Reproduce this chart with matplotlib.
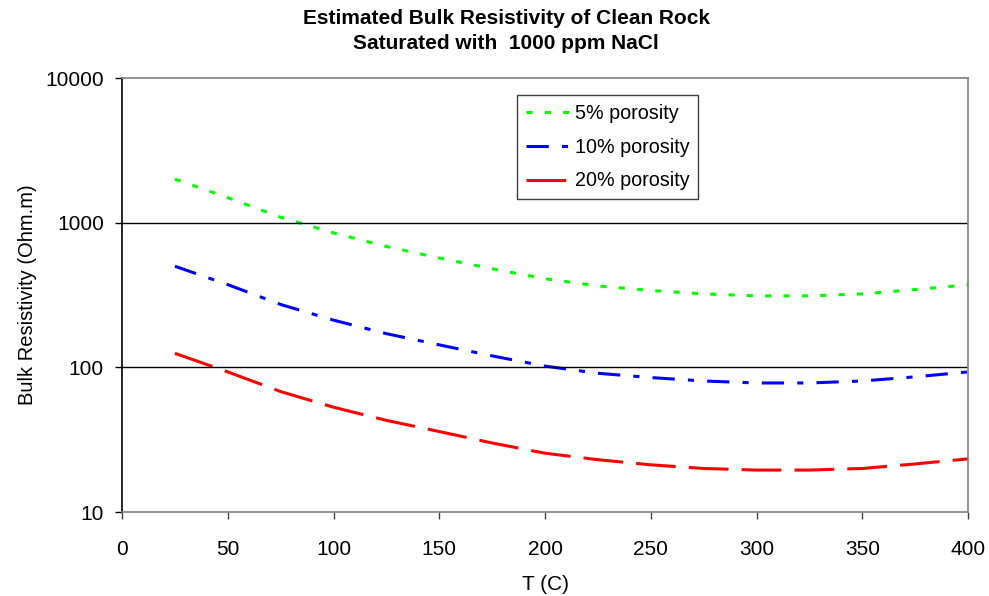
import matplotlib.pyplot as plt
from matplotlib.ticker import FixedLocator, FixedFormatter, NullLocator

temps = [25, 50, 75, 100, 125, 150, 175, 200, 225, 250, 275, 300, 325, 350, 375, 400]
res_5pct = [2000, 1490, 1090, 850, 685, 570, 480, 410, 365, 340, 322, 312, 312, 322, 345, 372]
res_10pct = [500, 373, 272, 212, 171, 143, 120, 102, 91, 85, 80.5, 78, 78, 80.5, 86, 93]
res_20pct = [125, 93, 68, 53, 43, 36, 30, 25.5, 23, 21.2, 20, 19.5, 19.5, 20, 21.5, 23.3]

plt.rcParams['font.family'] = ['Liberation Sans', 'DejaVu Sans']

fig = plt.figure(figsize=(9.89, 5.96), dpi=100)
ax = fig.add_axes([0.1234, 0.1409, 0.8554, 0.7282])

lw = 2.2
ax.plot(temps, res_5pct, color='#00ff00', lw=lw, dashes=(2, 4), label='5% porosity')
ax.plot(temps, res_10pct, color='#0000ff', lw=lw, dashes=(7.3, 4.3, 2, 4.3), label='10% porosity')
ax.plot(temps, res_20pct, color='#ff0000', lw=lw, dashes=(13, 4.3), label='20% porosity')

ax.set_yscale('log')
ax.set_xlim(0, 400)
ax.set_ylim(10, 10000)
ax.set_xticks(range(0, 401, 50))
ax.yaxis.set_major_locator(FixedLocator([10, 100, 1000, 10000]))
ax.yaxis.set_major_formatter(FixedFormatter(['10', '100', '1000', '10000']))
ax.yaxis.set_minor_locator(NullLocator())

for y in [100, 1000]:
    ax.axhline(y, color='black', lw=1)

for side in ['top', 'right', 'bottom']:
    ax.spines[side].set_color('#808080')
    ax.spines[side].set_linewidth(1.2)
ax.spines['left'].set_color('black')
ax.spines['left'].set_linewidth(1.2)

ax.tick_params(axis='both', direction='out', length=5, width=1, labelsize=15, pad=8)
ax.tick_params(axis='x', colors='#404040', labelcolor='black', pad=15)

ax.set_xlabel('T (C)', fontsize=15, labelpad=12)
ax.set_ylabel('Bulk Resistivity (Ohm.m)', fontsize=14.5, labelpad=6)
fig.text(0.512, 0.985, 'Estimated Bulk Resistivity of Clean Rock\nSaturated with  1000 ppm NaCl',
         ha='center', va='top', fontsize=15, fontweight='bold', linespacing=1.4)

leg = ax.legend(loc='upper left', bbox_to_anchor=(0.4674, 0.96), fontsize=14.2,
                frameon=True, fancybox=False, edgecolor='#404040', framealpha=1,
                handlelength=2.3, handletextpad=0.15, borderpad=0.45, labelspacing=0.74,
                borderaxespad=0)
leg.get_frame().set_linewidth(1)

fig.savefig('out.png', dpi=100)
